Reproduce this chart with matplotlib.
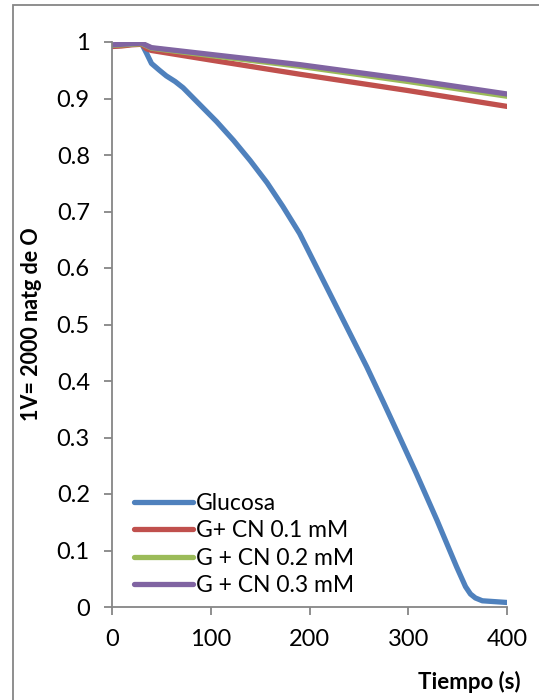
import matplotlib
matplotlib.use("Agg")
import matplotlib.pyplot as plt
from matplotlib.patches import Rectangle

plt.rcParams['font.family'] = ['Lato', 'DejaVu Sans']

# Data
t_glu = [0, 10, 20, 30, 35, 40, 48, 55, 64, 72, 89, 106, 123, 140, 157, 173, 190, 207, 224,
         241, 258, 275, 288, 308, 329, 349, 358, 363, 368, 375, 400]
glucosa = [0.993, 0.994, 0.996, 0.997, 0.980, 0.962, 0.950, 0.940, 0.930, 0.919, 0.889,
           0.859, 0.826, 0.790, 0.751, 0.709, 0.661, 0.602, 0.543, 0.484, 0.425, 0.362,
           0.313, 0.237, 0.154, 0.071, 0.036, 0.023, 0.016, 0.011, 0.008]

t_cn = [0, 10, 20, 30, 35, 40, 100, 190, 300, 400]
cn01 = [0.992, 0.993, 0.995, 0.996, 0.988, 0.985, 0.968, 0.943, 0.914, 0.886]
cn02 = [0.994, 0.995, 0.996, 0.997, 0.993, 0.989, 0.976, 0.957, 0.930, 0.904]
cn03 = [0.995, 0.996, 0.997, 0.998, 0.994, 0.990, 0.978, 0.960, 0.934, 0.908]

series_names = ["Glucosa", "G+ CN 0.1 mM", "G + CN 0.2 mM", "G + CN 0.3 mM"]
colors = ["#4F81BD", "#C0504D", "#9BBB59", "#8064A2"]

x_ticks = [0, 100, 200, 300, 400]
y_ticks = [0, 0.1, 0.2, 0.3, 0.4, 0.5, 0.6, 0.7, 0.8, 0.9, 1]
y_tick_labels = ["0", "0.1", "0.2", "0.3", "0.4", "0.5", "0.6", "0.7", "0.8", "0.9", "1"]

W, H = 539, 700
fig = plt.figure(figsize=(W / 100, H / 100), dpi=100)
ax = fig.add_axes([112 / W, 1 - 607 / H, (507 - 112) / W, (607 - 42) / H])

lw = 3.8
for t, y, c, n in [(t_glu, glucosa, colors[0], series_names[0]),
                   (t_cn, cn01, colors[1], series_names[1]),
                   (t_cn, cn02, colors[2], series_names[2]),
                   (t_cn, cn03, colors[3], series_names[3])]:
    ax.plot(t, y, color=c, lw=lw, label=n, solid_capstyle='round', solid_joinstyle='round')

ax.set_xlim(0, 400)
ax.set_ylim(0, 1)
ax.set_xticks(x_ticks)
ax.set_xticklabels([str(v) for v in x_ticks])
ax.set_yticks(y_ticks)
ax.set_yticklabels(y_tick_labels)

for s in ['top', 'right']:
    ax.spines[s].set_visible(False)
for s in ['left', 'bottom']:
    ax.spines[s].set_color('#868686')
    ax.spines[s].set_linewidth(1.3)
ax.tick_params(axis='both', direction='out', length=6, width=1.3, color='#868686',
               labelsize=17, labelcolor='black')
ax.tick_params(axis='x', pad=10)
ax.tick_params(axis='y', pad=10)

ax.set_ylabel("1V= 2000 natg de O", fontsize=15.5, fontweight='bold')
ax.yaxis.set_label_coords(-0.178, 0.5)
fig.text(521 / W, 1 - 682 / H, "Tiempo (s)", fontsize=16, fontweight='bold',
         ha='right', va='center')

leg = ax.legend(loc='lower left', bbox_to_anchor=(0.02, -0.005), frameon=False,
                fontsize=16.5, handlelength=2.6, handletextpad=0.12,
                labelspacing=0.28, borderaxespad=0.2)

fig.patches.append(Rectangle((13 / W, -0.05), 1.1, 1 - 5 / H + 0.05,
                             transform=fig.transFigure, fill=False,
                             edgecolor='#868686', lw=1.3))

fig.savefig("out.png", dpi=100)
